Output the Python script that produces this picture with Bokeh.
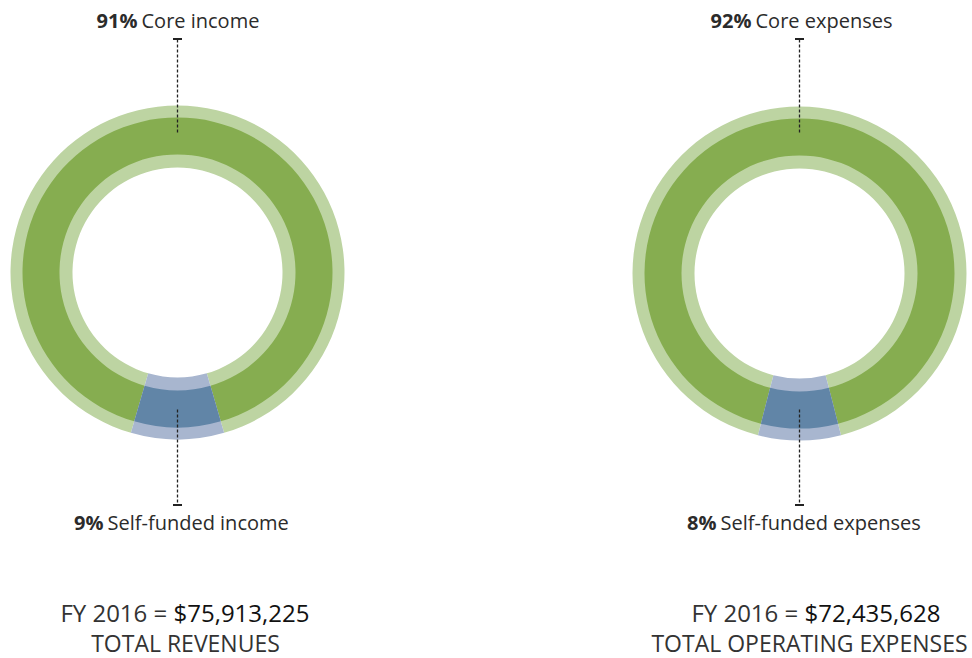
import math
from bokeh.plotting import figure
from bokeh.models import Range1d
from bokeh.core.properties import value
from bokeh.embed import file_html
from bokeh.resources import INLINE

# ---- data ----
chart_titles = ["Core income", "Core expenses"]
self_titles = ["Self-funded income", "Self-funded expenses"]
core_pct = [91, 92]
self_pct = [9, 8]
fy_label = "FY 2016 = "
totals = ["$75,913,225", "$72,435,628"]
total_titles = ["TOTAL REVENUES", "TOTAL OPERATING EXPENSES"]

W, H = 972, 658
FONT = "Open Sans"
TXT = "#2b2b2b"
LIGHT_GREEN = "#bdd4a2"
DARK_GREEN = "#86ad50"
LIGHT_BLUE = "#a8b6cf"
DARK_BLUE = "#6185a7"

p = figure(width=W, height=H, x_range=Range1d(0, W), y_range=Range1d(0, H),
           output_backend="svg", toolbar_location=None, min_border=0)
p.axis.visible = False
p.grid.visible = False
p.outline_line_color = None
p.background_fill_color = "white"

def Y(sy):  # screen y -> data y
    return H - sy

def X(sx):
    return sx

centers = [(177, 272), (799, 273)]
R_OUT, R_D1, R_D2, R_IN = 167, 155, 118, 105
split_top = [137, 751]
split_bot = [103, 716]
fy_center = [175, 806]
tot_center = [185, 809]

for i, (cx, cy) in enumerate(centers):
    x0, y0 = X(cx), Y(cy)
    frac = self_pct[i] / (self_pct[i] + core_pct[i])
    half = frac * math.pi
    b_start = -math.pi / 2 - half
    b_end = -math.pi / 2 + half
    # green (rest of circle)
    p.annular_wedge(x=x0, y=y0, inner_radius=R_IN, outer_radius=R_OUT,
                    start_angle=b_end, end_angle=b_start + 2 * math.pi,
                    color=LIGHT_GREEN, line_color=None)
    p.annular_wedge(x=x0, y=y0, inner_radius=R_D2, outer_radius=R_D1,
                    start_angle=b_end, end_angle=b_start + 2 * math.pi,
                    color=DARK_GREEN, line_color=None)
    # blue (self-funded)
    p.annular_wedge(x=x0, y=y0, inner_radius=R_IN, outer_radius=R_OUT,
                    start_angle=b_start, end_angle=b_end,
                    color=LIGHT_BLUE, line_color=None)
    p.annular_wedge(x=x0, y=y0, inner_radius=R_D2, outer_radius=R_D1,
                    start_angle=b_start, end_angle=b_end,
                    color=DARK_BLUE, line_color=None)

    # leader lines
    p.segment(x0=[x0], y0=[Y(39)], x1=[x0], y1=[Y(134)], line_color="#222222",
              line_width=1.3, line_dash="3 2")
    p.segment(x0=[x0 - 4.5], y0=[Y(38.5)], x1=[x0 + 4.5], y1=[Y(38.5)],
              line_color="#222222", line_width=2)
    p.segment(x0=[x0], y0=[Y(409)], x1=[x0], y1=[Y(504)], line_color="#222222",
              line_width=1.3, line_dash="3 2")
    p.segment(x0=[x0 - 4.5], y0=[Y(504.5)], x1=[x0 + 4.5], y1=[Y(504.5)],
              line_color="#222222", line_width=2)

    # top label
    p.text(x=[X(split_top[i])], y=[Y(20)], text=[f"{core_pct[i]}%"],
           text_font=value(FONT), text_font_size="20px", text_font_style="bold",
           text_align="right", text_baseline="middle", text_color=TXT)
    p.text(x=[X(split_top[i]) + 4], y=[Y(20)], text=[chart_titles[i]],
           text_font=value(FONT), text_font_size="20px",
           text_align="left", text_baseline="middle", text_color=TXT)
    # bottom label
    p.text(x=[X(split_bot[i])], y=[Y(522)], text=[f"{self_pct[i]}%"],
           text_font=value(FONT), text_font_size="20px", text_font_style="bold",
           text_align="right", text_baseline="middle", text_color=TXT)
    p.text(x=[X(split_bot[i]) + 4], y=[Y(522)], text=[self_titles[i]],
           text_font=value(FONT), text_font_size="20px",
           text_align="left", text_baseline="middle", text_color=TXT)

    # totals
    p.text(x=[X(fy_center[i]) - 2], y=[Y(612)], text=[fy_label],
           text_font=value(FONT), text_font_size="24px",
           text_align="right", text_baseline="middle", text_color="#333333")
    p.text(x=[X(fy_center[i]) - 2], y=[Y(612)], text=[totals[i]],
           text_font=value(FONT), text_font_size="24px",
           text_align="left", text_baseline="middle", text_color="#111111")
    p.text(x=[X(tot_center[i])], y=[Y(642)], text=[total_titles[i]],
           text_font=value(FONT), text_font_size="23px",
           text_align="center", text_baseline="middle", text_color="#333333")

open("out.html", "w").write(file_html(p, INLINE))
